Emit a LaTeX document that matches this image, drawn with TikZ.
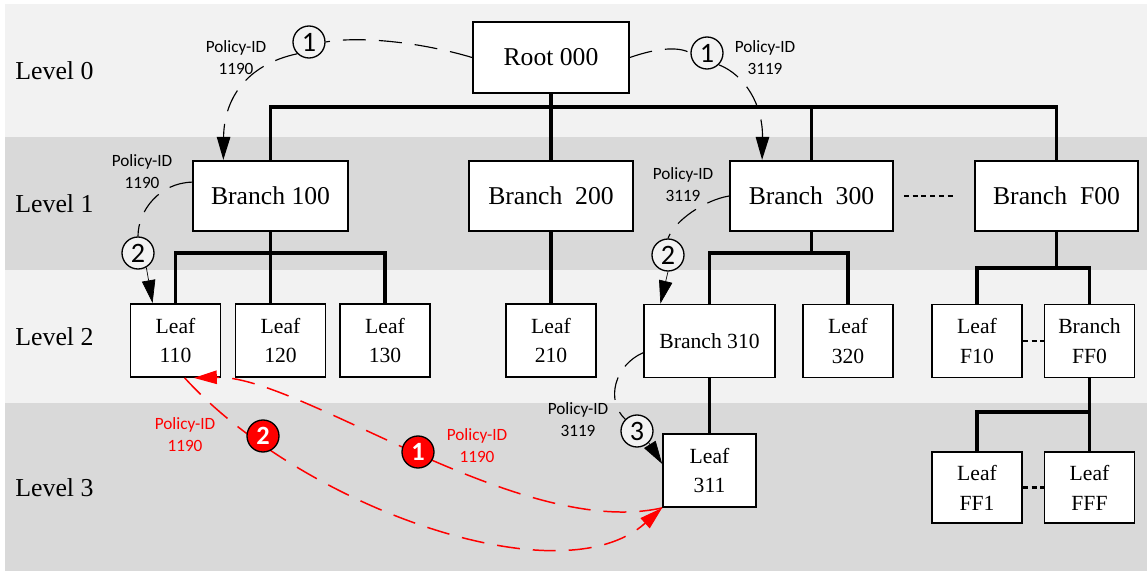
\documentclass[tikz,border=0pt]{standalone}
\usepackage{fontspec}
\setmainfont{Liberation Serif}
\newfontfamily\lblfont{Carlito}
\usetikzlibrary{arrows.meta,calc}
\definecolor{bandlight}{HTML}{F2F2F2}
\definecolor{banddark}{HTML}{D9D9D9}

\begin{document}
\begin{tikzpicture}[x=0.02cm,y=-0.02cm,
  box/.style={draw,line width=1pt,fill=white,inner sep=0pt,align=center},
  bigbox/.style={box,minimum height=1.41cm,font=\fontsize{14.6}{17}\selectfont},
  smallbox/.style={box,minimum width=1.8cm,minimum height=1.46cm,font=\fontsize{12.3}{17}\selectfont},
  lvl/.style={anchor=west,inner sep=0pt,font=\fontsize{14.7}{17}\selectfont},
  tree/.style={line width=2pt},
  dotline/.style={line width=1.6pt,dash pattern=on 1mm off 0.75mm},
  pathline/.style={line width=0.65pt,dash pattern=on 4.6mm off 2.6mm},
  redpath/.style={pathline,red,line width=0.85pt},
  tip/.style={-{Triangle[length=4.6mm,width=2.7mm]}},
  pid/.style={font=\lblfont\fontsize{9.8}{12.5}\selectfont,align=center},
  numc/.style={circle,draw,line width=0.75pt,fill=bandlight,minimum size=0.64cm,inner sep=0pt,font=\lblfont\fontsize{16}{16}\selectfont},
  rednum/.style={numc,fill=red,text=white,font=\lblfont\bfseries\fontsize{15}{15}\selectfont}]
\useasboundingbox (0,0) rectangle (1147,571);
\fill[bandlight] (5,4) rectangle (1147,137);
\fill[banddark] (5,137) rectangle (1147,270);
\fill[bandlight] (5,270) rectangle (1147,403);
\fill[banddark] (5,403) rectangle (1147,571);
\node[lvl] (lv0) at (15,71) {Level 0};
\node[lvl] (lv1) at (15,204) {Level 1};
\node[lvl] (lv2) at (15,337) {Level 2};
\node[lvl] (lv3) at (15,488) {Level 3};

\node[bigbox,minimum width=3.12cm] (root) at (551,57.5) {Root 000};
\node[bigbox,minimum width=3.11cm] (b100) at (270.5,196) {Branch 100};
\node[bigbox,minimum width=3.28cm] (b200) at (551,196) {Branch~~200};
\node[bigbox,minimum width=3.26cm] (b300) at (811.5,196) {Branch~~300};
\node[bigbox,minimum width=3.26cm] (bf00) at (1056.5,196) {Branch~~F00};

\node[smallbox] (l110) at (175.5,340.5) {Leaf\\110};
\node[smallbox] (l120) at (280.5,340.5) {Leaf\\120};
\node[smallbox] (l130) at (385,340.5) {Leaf\\130};
\node[smallbox] (l210) at (551,340.5) {Leaf\\210};
\node[smallbox,minimum width=2.62cm] (b310) at (709.5,341) {Branch 310};
\node[smallbox] (l320) at (848,341) {Leaf\\320};
\node[smallbox] (lf10) at (977,341) {Leaf\\F10};
\node[smallbox] (bff0) at (1089.5,341) {Branch\\FF0};

\node[smallbox,minimum width=1.86cm] (l311) at (709.5,470.5) {Leaf\\311};
\node[smallbox,minimum height=1.42cm] (lff1) at (977,487.5) {Leaf\\FF1};
\node[smallbox,minimum height=1.42cm] (lfff) at (1089.5,487.5) {Leaf\\FFF};

\coordinate (bus0) at (551,107);
\coordinate (bus1) at (271,253);
\coordinate (bus2) at (811.5,253);
\coordinate (bus3) at (1056.5,268);
\coordinate (bus4) at (1089.5,412);
\draw[tree] (root) -- (b200);
\draw[tree] (b100.north) |- (bus0) -| (bf00.north);
\draw[tree] (b300.north) -- (b300.north |- bus0);
\draw[tree] (b100.south) -- (b100.south |- l120.north);
\draw[tree] (l110.north) |- (bus1) -| (l130.north);
\draw[tree] (b200) -- (l210);
\draw[tree] (b300.south) -- (bus2);
\draw[tree] (b310.north) |- (bus2) -| (l320.north);
\draw[tree] (b310) -- (l311);
\draw[tree] (bf00.south) -- (bus3);
\draw[tree] (lf10.north) |- (bus3) -| (bff0.north);
\draw[tree] (bff0) -- (lfff);
\draw[tree] (lff1.north) |- (bus4);

\draw[dotline,shorten <=0.2cm,shorten >=0.42cm] (b300.east) -- (bf00.west);
\draw[dotline] (lf10.east) -- (bff0.west);
\draw[dotline] (lff1.east) -- (lfff.west);

\node[numc] (c1l) at (309,42) {1};
\node[numc] (c1r) at (707,53) {1};
\node[numc] (c2l) at (138,253) {2};
\node[numc] (c2r) at (668,255) {2};
\node[numc] (c3) at (637,431) {3};

\draw[pathline] (root.west) .. controls (420,42) and (360,36) .. (c1l.east);
\draw[pathline,tip] (c1l.south west) .. controls (245,65) and (224,100) .. ($(b100.north west)!0.2!(b100.north east)$);
\draw[pathline] (root.east) .. controls (660,47) and (680,47) .. (c1r.west);
\draw[pathline,tip] (c1r.south east) .. controls (745,75) and (763,105) .. ($(b300.north west)!0.2!(b300.north east)$);
\draw[pathline] (b100.170) .. controls (160,183) and (138,210) .. (c2l.north);
\draw[tip] (c2l.300) -- ($(l110.north west)!0.5!(l110.north)$);
\draw[pathline] (b300.west) .. controls (705,200) and (675,220) .. (c2r.north);
\draw[tip] (c2r.south) -- ($(b310.north west)!0.13!(b310.north east)$);
\draw[pathline] (b310.190) .. controls (615,365) and (605,400) .. (c3.north west);
\draw[tip] (c3.south east) -- (l311.172);

\draw[redpath,tip] (l311.south west) .. controls (520,540) and (300,375) .. ($(l110.south)!0.4!(l110.south east)$);
\draw[redpath,tip] ($(l110.south)!0.2!(l110.south east)$) .. controls (300,505) and (560,600) .. (l311.south west);
\node[rednum] (r2) at (263,436) {2};
\node[rednum] (r1) at (418,452) {1};

\node[pid] (p1) at (236,58) {Policy-ID\\1190};
\node[pid] (p2) at (765,58) {Policy-ID\\3119};
\node[pid] (p3) at (142,172) {Policy-ID\\1190};
\node[pid] (p4) at (683,185) {Policy-ID\\3119};
\node[pid] (p5) at (578,420) {Policy-ID\\3119};
\node[pid,text=red] (p6) at (185,435) {Policy-ID\\1190};
\node[pid,text=red] (p7) at (477,446) {Policy-ID\\1190};
\end{tikzpicture}
\end{document}
